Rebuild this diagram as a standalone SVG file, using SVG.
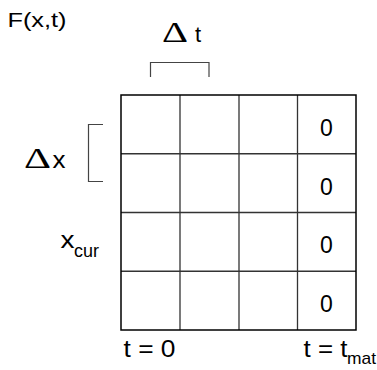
<svg xmlns="http://www.w3.org/2000/svg" width="377" height="370" viewBox="0 0 377 370">
<style>
text{font-family:"Liberation Sans",Arial,sans-serif;fill:#000}
.d{font-family:"Liberation Serif","Times New Roman",serif}
.g{stroke:#333;stroke-width:1.3;fill:none}
.o{stroke:#000;stroke-width:1.5;fill:none}
.br{stroke:#444;stroke-width:1.2;fill:none}
.z{font-size:23px;text-anchor:middle}
</style>
<rect width="377" height="370" fill="#fff"/>
<g id="title"><text x="7.5" y="27" font-size="20" textLength="59" lengthAdjust="spacingAndGlyphs">F(x,t)</text></g>
<g id="grid">
<path class="g" d="M180,95V330M239,95V330M297.5,95V330M121,153.75H356M121,212.5H356M121,271.25H356"/>
<rect class="o" x="121" y="95" width="235" height="235"/>
<text class="z" x="326.5" y="136">0</text>
<text class="z" x="326.5" y="194.5">0</text>
<text class="z" x="326.5" y="253">0</text>
<text class="z" x="326.5" y="312">0</text>
</g>
<g id="dt">
<path class="br" d="M150.5,77V62.5H209V77"/>
<text class="d" x="162" y="41.5" font-size="30" textLength="26" lengthAdjust="spacingAndGlyphs">Δ</text>
<text x="195" y="41.5" font-size="22">t</text>
</g>
<g id="dx">
<path class="br" d="M103,124.5H88.5V181.5H103"/>
<text class="d" x="24" y="168" font-size="30" textLength="27" lengthAdjust="spacingAndGlyphs">Δ</text>
<text x="52.5" y="168" font-size="23" textLength="13" lengthAdjust="spacingAndGlyphs">x</text>
</g>
<g id="xcur">
<text x="60.5" y="248" font-size="23" textLength="14" lengthAdjust="spacingAndGlyphs">x</text>
<text x="74" y="256.5" font-size="18" textLength="25" lengthAdjust="spacingAndGlyphs">cur</text>
</g>
<g id="t0"><text x="123.5" y="357" font-size="23" textLength="52" lengthAdjust="spacingAndGlyphs">t = 0</text></g>
<g id="tmat">
<text x="303.5" y="357" font-size="23" textLength="44" lengthAdjust="spacingAndGlyphs">t = t</text>
<text x="347" y="364" font-size="17" textLength="29" lengthAdjust="spacingAndGlyphs">mat</text>
</g>
</svg>
